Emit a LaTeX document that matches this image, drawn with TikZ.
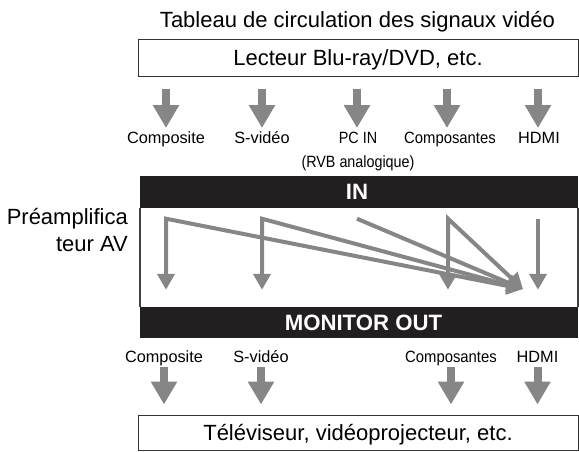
\documentclass[tikz,border=0pt]{standalone}
\usepackage{fontspec}
\setmainfont{Liberation Sans}
\usepackage{tikz}
\usetikzlibrary{arrows.meta}
\usetikzlibrary{positioning}
\definecolor{sig}{RGB}{134,134,134}
\definecolor{bandblk}{RGB}{35,31,32}
\tikzset{>=latex}
\newcommand{\narrow}[2][0.9]{\scalebox{#1}[1]{#2}}
\tikzset{
  devbox/.style = {draw=black!80, line width=1pt, minimum width=440pt, minimum height=37pt,
                   inner sep=0, text height=16pt, text depth=0pt, font=\fontsize{22}{26}\selectfont},
  bandbox/.style = {fill=bandblk, draw=none, minimum width=438pt, minimum height=32pt, inner sep=0},
  bandtxt/.style = {text=white, inner sep=0, font=\bfseries\fontsize{22.2}{24}\selectfont},
  sig lbl/.style = {inner sep=0, anchor=base, font=\fontsize{16.3}{18}\selectfont},
  fatarrow/.style = {draw=sig, line width=8pt, -{Triangle[width=25pt,length=23pt]}},
  slimarrow/.style = {draw=sig, line width=4pt, line join=miter, -{Triangle[width=17pt,length=16pt]}},
  bislim/.style = {draw=sig, line width=4pt, line join=miter,
                   {Triangle[width=17pt,length=16pt]}-{Triangle[width=17pt,length=16pt]}}
}

\begin{document}
\begin{tikzpicture}[x=1pt, y=-1pt]
\useasboundingbox (0,0) rectangle (579,451);
%\node at (357.5,27) {Tableau};
\node [inner sep=0, anchor=base, font=\fontsize{22}{26}\selectfont] (title) at (357.5,27) {Tableau de circulation des signaux vidéo};
\node [devbox] (player) at (358,57.5) {Lecteur Blu-ray/DVD, etc.};

% entrees
\node [sig lbl] (c1) at (166,143) {Composite};
\node [sig lbl] (c2) at (262,143) {S-vidéo};
\node [sig lbl] (c3) at (358,143) {\narrow[0.88]{PC IN}};
\node [sig lbl] (c4) at (450,143) {\narrow[0.91]{Composantes}};
\node [sig lbl] (c5) at (539,143) {HDMI};
\node [sig lbl] (rvb) at (358,167) {\narrow[0.88]{(RVB analogique)}};
\coordinate (srcrow) at ([yshift=-12pt]player.south);
\coordinate (inrow) at ([yshift=15pt]c1.base);
\draw [fatarrow] (c1 |- srcrow) -- (c1 |- inrow);
\draw [fatarrow] (c2 |- srcrow) -- (c2 |- inrow);
\draw [fatarrow] (357,0 |- srcrow) -- (357,0 |- inrow);
\draw [fatarrow] (447,0 |- srcrow) -- (447,0 |- inrow);
\draw [fatarrow] (538,0 |- srcrow) -- (538,0 |- inrow);

% ampli
\node [bandbox] (inband) at (359,191.5) {};
\node [bandbox, minimum height=31pt] (outband) at (359,322.5) {};
\node [bandtxt] (intxt) at (357,192) {IN};
\node [bandtxt] (outtxt) at (363.5,323) {MONITOR OUT};
\draw [black!75, line width=1.5pt] (inband.south west) -- (outband.north west);
\draw [black!75, line width=1.5pt] (inband.south east) -- (outband.north east);
\node [inner sep=0, anchor=base east, align=right, font=\fontsize{22}{27}\selectfont] (amp) at (128,251) {Préamplifica\\teur AV};

\coordinate (rowtop) at ([yshift=-11pt]inband.south);
\coordinate (rowbot) at ([yshift=17pt]outband.north);
\coordinate (hub) at (523,289);
\draw [bislim] (c1 |- rowbot) -- (c1 |- rowtop) -- (hub);
\draw [bislim] (c2 |- rowbot) -- (c2 |- rowtop) -- (hub);
\draw [slimarrow] (357,0 |- rowtop) -- (hub);
\draw [bislim] (448,0 |- rowbot) -- (448,0 |- rowtop) -- (hub);
\draw [slimarrow] (538,0 |- rowtop) -- (538,0 |- rowbot);

% sorties
\node [sig lbl] (o1) at (164,362) {Composite};
\node [sig lbl] (o2) at (261,362) {S-vidéo};
\node [sig lbl] (o4) at (451,362) {\narrow[0.91]{Composantes}};
\node [sig lbl] (o5) at (537.5,362) {HDMI};
\node [devbox, minimum height=35pt] (tv) at (358,432.5) {Téléviseur, vidéoprojecteur, etc.};
\coordinate (outrow) at ([yshift=-5pt]o1.base);
\coordinate (tvrow) at ([yshift=10pt]tv.north);
\foreach \o in {o1,o2,o4,o5}
  \draw [fatarrow] (\o |- outrow) -- (\o |- tvrow);
\end{tikzpicture}
\end{document}
